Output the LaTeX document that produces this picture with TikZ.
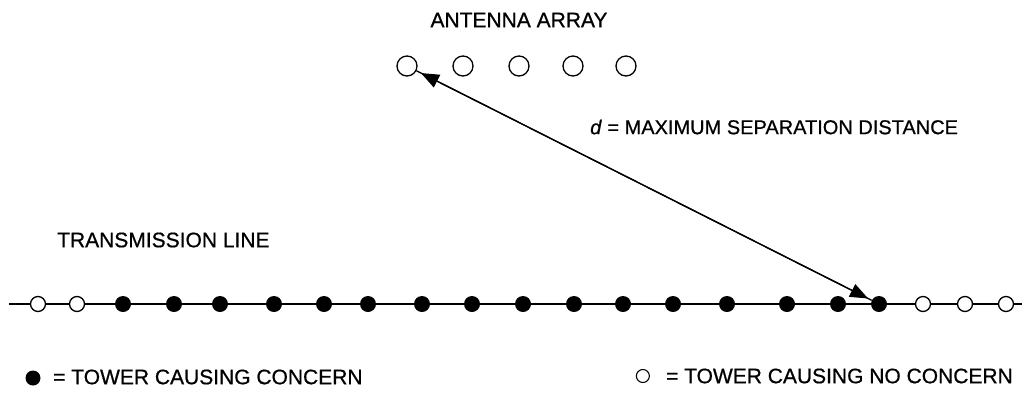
\documentclass[tikz,border=0pt]{standalone}
\usepackage{fontspec}
\setmainfont[FakeBold=0.7]{Liberation Sans}
\usetikzlibrary{arrows.meta}
\begin{document}
\begin{tikzpicture}[x=1pt,y=-1pt,
  lbl/.style={inner sep=0pt,font=\fontsize{21}{24}\selectfont},
  full/.style={circle,fill=black,inner sep=0pt,minimum size=16pt},
  open/.style={circle,draw=black,fill=white,line width=1.3pt,inner sep=0pt,minimum size=15pt},
  ant/.style={circle,draw=black,fill=white,line width=1.3pt,inner sep=0pt,minimum size=20pt},
  conn/.style={line width=1.3pt,-{Triangle[length=18pt,width=14pt]}}]
\useasboundingbox (0,0) rectangle (1026,392);
% transmission line
\coordinate (lineL) at (9,304);
\coordinate (lineR) at (1022,304);
\draw[line width=1.5pt] (lineL) -- (lineR);
% towers
\foreach \x [count=\i] in {38,77} \node[open] (o\i) at (\x,304) {};
\foreach \x [count=\i] in {123,174,220,274,324,368,422,472,523,574,623,673,727,787,838,879}
  \node[full] (f\i) at (\x,304) {};
\foreach \x [count=\i] in {923,965,1006} \node[open] (p\i) at (\x,304) {};
% antenna array
\foreach \x [count=\i] in {407,463,519,573,626} \node[ant] (a\i) at (\x,66) {};
\node[lbl] (title) at (519,20) {ANTENNA ARRAY};
% distance arrow
\draw[conn,shorten >=4pt] (a1) -- (f16);
\draw[conn,shorten >=5pt] (f16) -- (a1);
\node[lbl,anchor=west,font=\fontsize{20}{24}\selectfont] (dlbl) at (590,127) {\textit{d} = MAXIMUM SEPARATION DISTANCE};
\node[lbl,anchor=west] (tl) at (57,240) {TRANSMISSION LINE};
% legend
\node[full,minimum size=15pt] (lg1) at (33,378) {};
\node[lbl,anchor=west] (lt1) at (53,377) {= TOWER CAUSING CONCERN};
\node[lbl,anchor=east] (lt2) at (1013,376) {= TOWER CAUSING NO CONCERN};
\path (lt2.west) ++(-23,0) node[open,minimum size=13pt,line width=1.1pt] (lg2) {};
\end{tikzpicture}
\end{document}
